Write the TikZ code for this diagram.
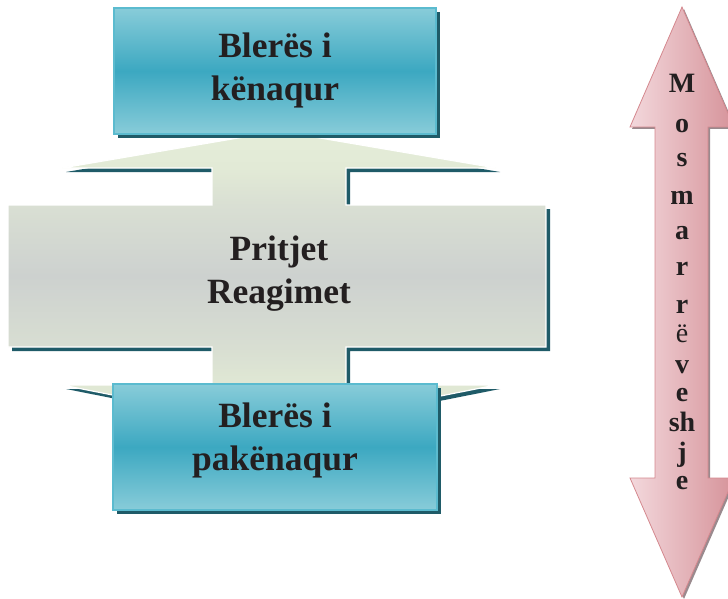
\documentclass[tikz,border=0pt]{standalone}
\usepackage{fontspec}
\setmainfont{Liberation Serif}
\usetikzlibrary{shadows}

\definecolor{inktext}{HTML}{231F20}
\definecolor{boxedge}{HTML}{88CCD9}
\definecolor{boxcore}{HTML}{3CA8C1}
\definecolor{boxline}{HTML}{5BBBCF}
\definecolor{deepteal}{HTML}{1F5B68}
\definecolor{pinkL}{HTML}{F3D8DC}
\definecolor{pinkR}{HTML}{D6939A}
\definecolor{pinkline}{HTML}{D4888E}
\definecolor{pinkshadow}{HTML}{9A8A8E}
% pillar colours, bottom to top
\definecolor{pA}{HTML}{E3EBD6}
\definecolor{pB}{HTML}{E0E8D4}
\definecolor{pC}{HTML}{D8DED2}
\definecolor{pD}{HTML}{CDD1CF}
\definecolor{pE}{HTML}{D9DFD3}
\definecolor{pF}{HTML}{E2EAD6}
\definecolor{pG}{HTML}{E5EDD9}
\pgfdeclareverticalshading{pillarshade}{100bp}{color(0bp)=(pA); color(25bp)=(pA); color(32.2bp)=(pB); color(38.6bp)=(pC); color(50.6bp)=(pD); color(62.5bp)=(pE); color(68.8bp)=(pF); color(75bp)=(pG); color(100bp)=(pG)}

\begin{document}
\begin{tikzpicture}[x=1pt,y=-1pt,
  bluebox/.style={rectangle, shade, top color=boxedge, bottom color=boxedge,
    middle color=boxcore, draw=boxline, line width=1.5pt, inner sep=0pt,
    minimum height=126pt,
    general shadow={fill=deepteal, shadow xshift=4pt, shadow yshift=-4pt}},
  bigtext/.style={text=inktext, align=center, inner sep=0pt,
    font=\fontsize{35.5}{43}\selectfont\bfseries},
  spine/.style={text=inktext, inner sep=0pt, anchor=base,
    font=\fontsize{28}{28}\selectfont\bfseries}]

\clip (0,0) rectangle (728,599);

% central double-headed pillar with the wide middle panel
\path[shade, shading=pillarshade, draw=white, line width=1.2pt,
      general shadow={fill=deepteal, shadow xshift=4pt, shadow yshift=-4pt}]
  (279,131) -- (496,168) -- (346,168) -- (346,205) -- (546,205) -- (546,347)
  -- (346,347) -- (346,385) -- (496,385) -- (279,428) -- (62,385) -- (212,385)
  -- (212,347) -- (8,347) -- (8,205) -- (212,205) -- (212,168) -- (62,168) -- cycle;
\node[bigtext] (midtext) at (279,274) {Pritjet\\Reagimet};

% satisfied / dissatisfied boxes
\node[bluebox, minimum width=322pt] (topbox) at (275,71) {};
\node[bigtext] (toptext) at (275,70) {Blerës i\\kënaqur};
\node[bluebox, minimum width=324pt] (lowbox) at (275,447) {};
\node[bigtext] (lowtext) at (275,440) {Blerës i\\pakënaqur};

% vertical double arrow on the right
\path[shade, left color=pinkL, right color=pinkR, draw=pinkline, line width=0.8pt,
      general shadow={fill=pinkshadow, shadow xshift=2pt, shadow yshift=-2pt}]
  (682,7) -- (734,127) -- (708,127) -- (708,478) -- (734,478) -- (682,597)
  -- (630,478) -- (655,478) -- (655,127) -- (630,127) -- cycle;

\node[spine] (s1) at (682,93) {M};
\node[spine] (s2) at (682,132) {o};
\node[spine] (s3) at (682,167) {s};
\node[spine] (s4) at (682,204) {m};
\node[spine] (s5) at (682,239) {a};
\node[spine] (s6) at (682,275) {r};
\node[spine] (s7) at (682,313) {r};
\node[spine, font=\fontsize{28}{28}\selectfont\mdseries] (s8) at (682,342) {ë};
\node[spine] (s9) at (682,373) {v};
\node[spine] (s10) at (682,401) {e};
\node[spine] (s11) at (682,431) {sh};
\node[spine] (s12) at (682,461) {j};
\node[spine] (s13) at (682,489) {e};
\end{tikzpicture}
\end{document}
